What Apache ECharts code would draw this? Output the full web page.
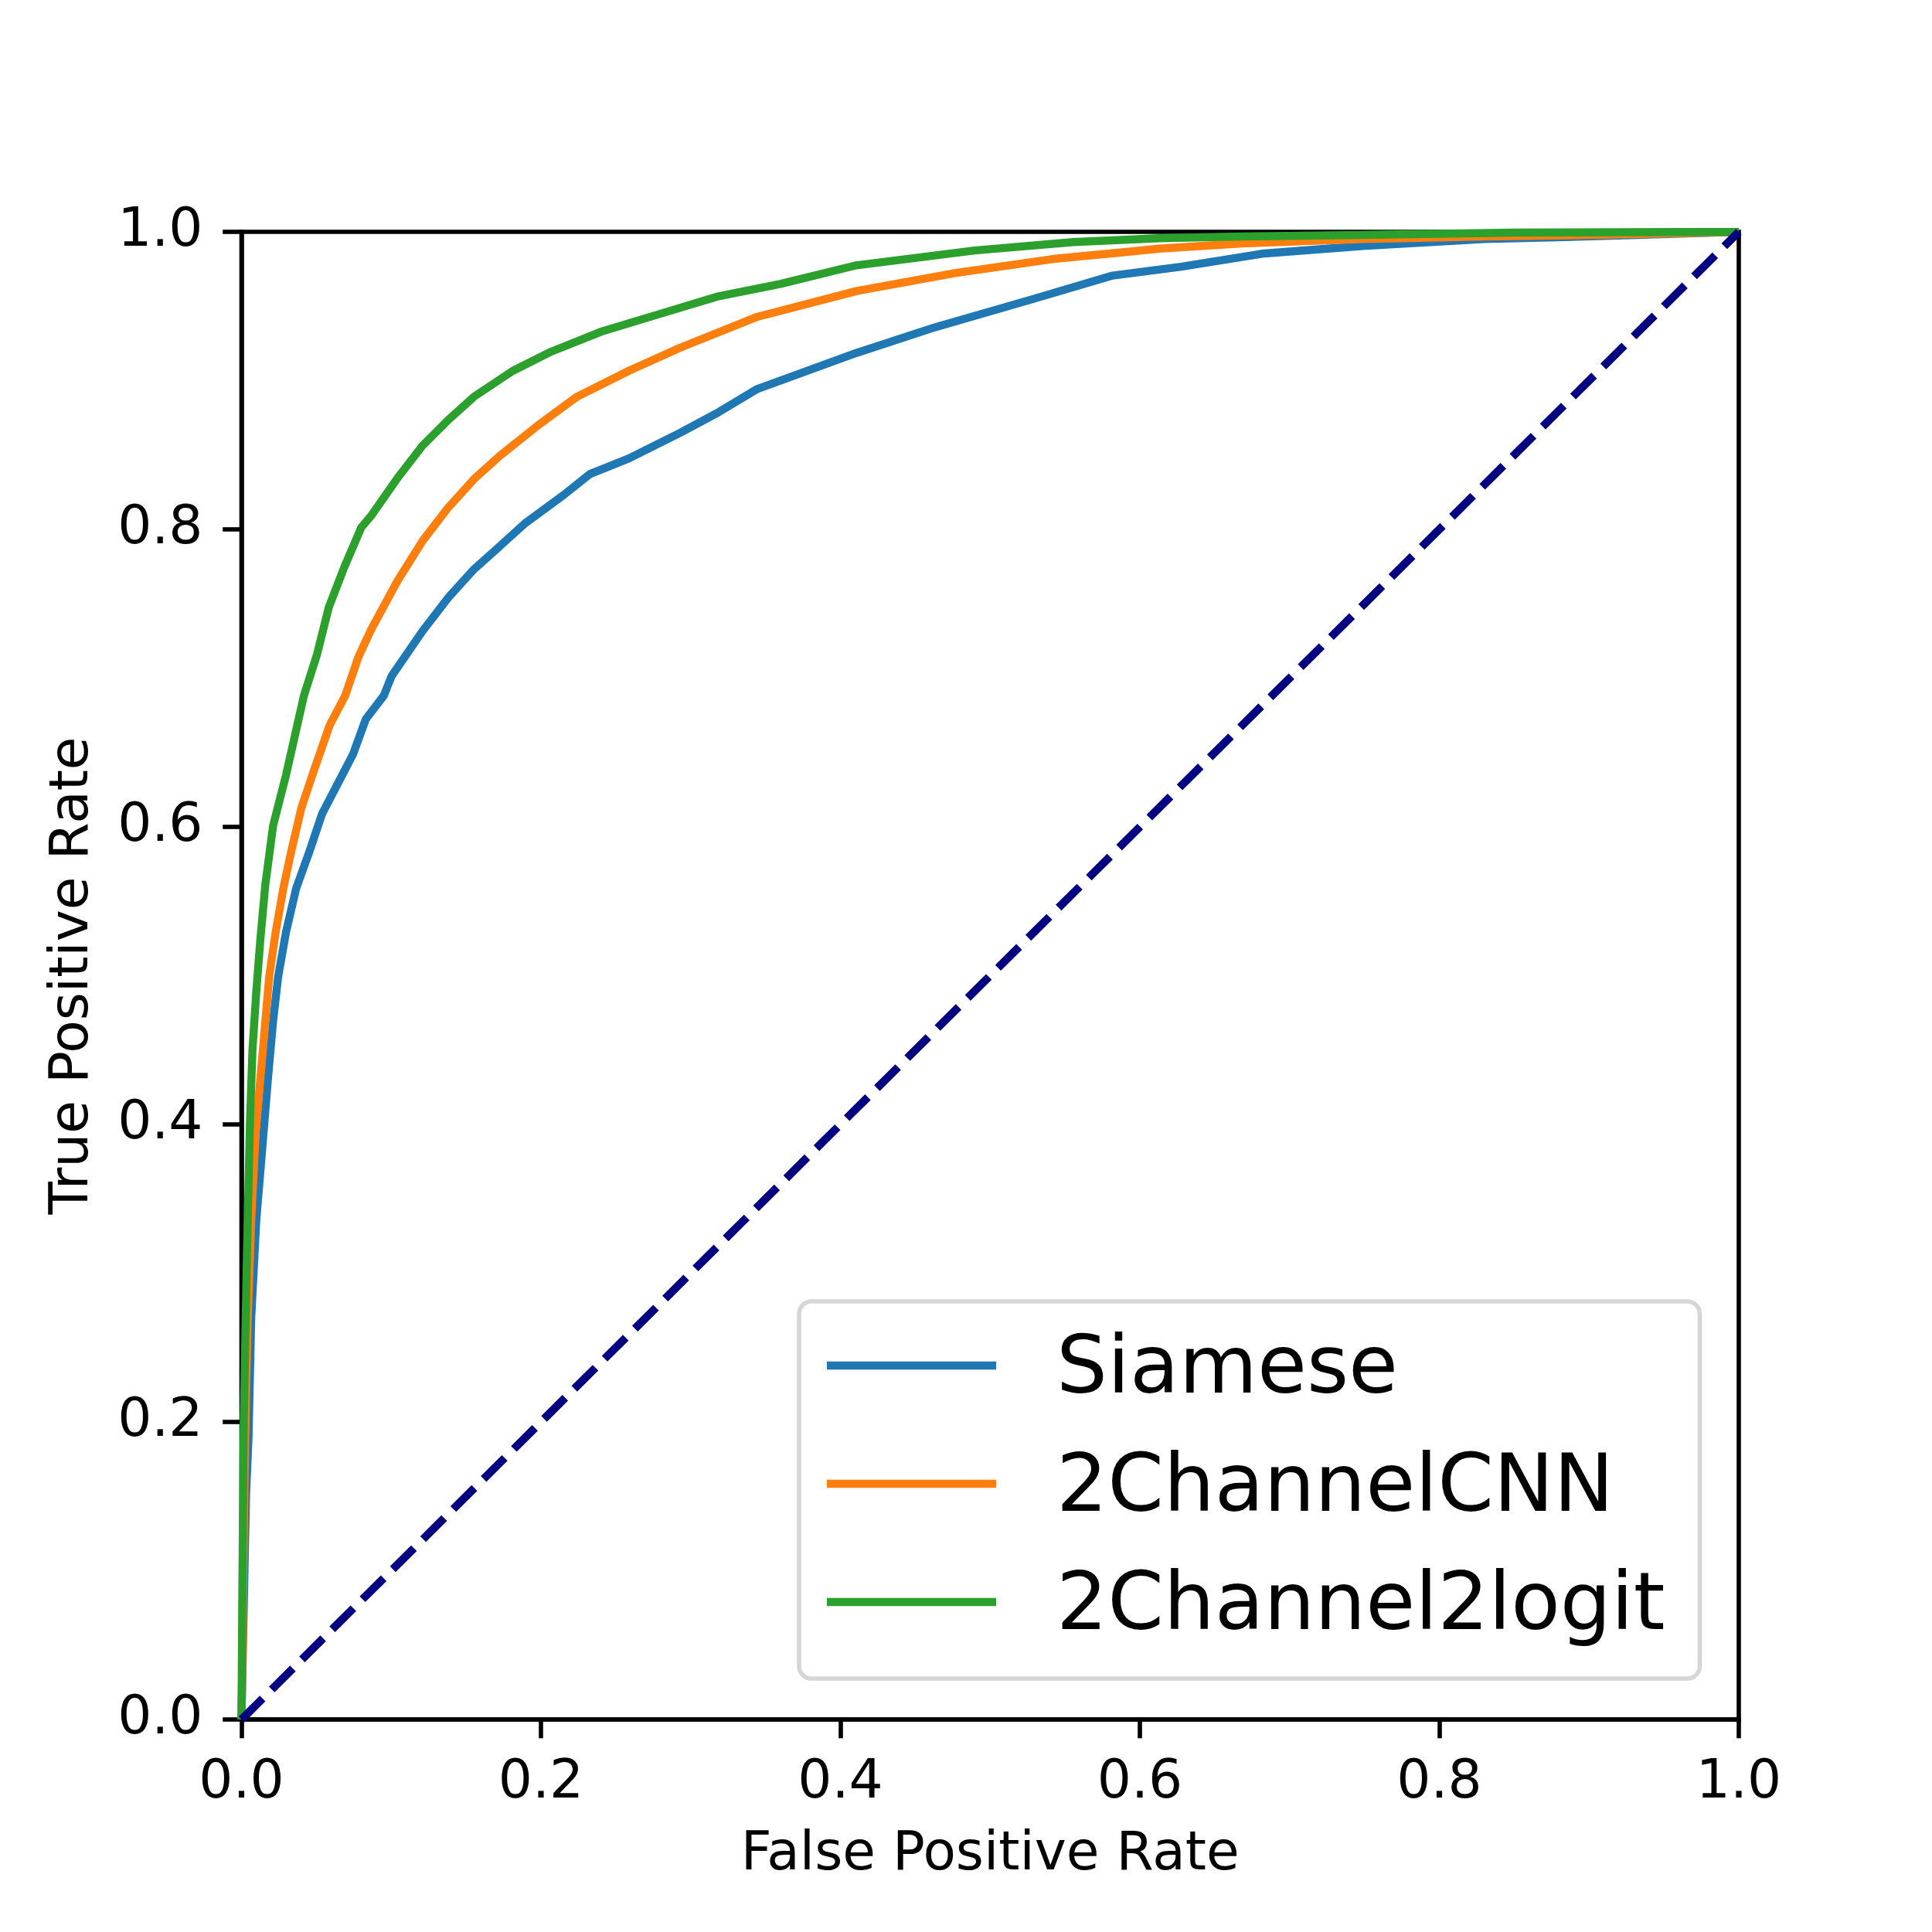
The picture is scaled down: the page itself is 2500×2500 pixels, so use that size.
<!DOCTYPE html>
<html>
<head>
<meta charset="utf-8">
<script src="https://cdn.jsdelivr.net/npm/echarts@6/dist/echarts.min.js"></script>
<style>
html,body{margin:0;padding:0;background:#fff;}
#chart{width:2500px;height:2500px;}
</style>
</head>
<body>
<div id="chart"></div>
<script>
const seriesNames = ['Siamese', '2ChannelCNN', '2Channel2logit'];
const xTicks = [0, 0.2, 0.4, 0.6, 0.8, 1.0];
const yTicks = [0, 0.2, 0.4, 0.6, 0.8, 1.0];

const siamese = [
  [0,0],[0.001,0.05],[0.002,0.1],[0.003,0.15],[0.0047,0.19],[0.0065,0.27],[0.0099,0.336],
  [0.0133,0.377],[0.0176,0.43],[0.0211,0.4696],[0.0245,0.4994],[0.0297,0.5292],[0.0366,0.559],
  [0.0452,0.583],[0.0538,0.6088],[0.0641,0.6287],[0.0744,0.6486],[0.083,0.6724],[0.0951,0.6883],
  [0.1002,0.7013],[0.1209,0.7316],[0.1381,0.7541],[0.1553,0.7732],[0.1725,0.7887],[0.1897,0.8043],
  [0.2155,0.8234],[0.2327,0.8372],[0.2585,0.8476],[0.2929,0.8649],[0.3187,0.8788],[0.3445,0.8944],
  [0.4107,0.9186],[0.4633,0.9359],[0.5292,0.955],[0.5818,0.9706],[0.6276,0.9766],[0.6815,0.9853],
  [0.749,0.9905],[0.83,0.9952],[0.884,0.9965],[1,1]
];
const cnn = [
  [0,0],[0.001,0.08],[0.002,0.16],[0.003,0.22],[0.0042,0.27],[0.0065,0.336],[0.0095,0.395],
  [0.0151,0.4597],[0.0185,0.4994],[0.0228,0.5292],[0.028,0.559],[0.0331,0.583],[0.04,0.6128],
  [0.0486,0.6386],[0.0589,0.6684],[0.0693,0.6883],[0.0781,0.7143],[0.0865,0.7325],[0.1037,0.7645],
  [0.1209,0.7922],[0.1381,0.8147],[0.1553,0.8338],[0.1725,0.8494],[0.1983,0.8701],[0.2241,0.8892],
  [0.2585,0.9065],[0.2929,0.9221],[0.3445,0.9429],[0.4107,0.9602],[0.4765,0.9723],[0.5423,0.9818],
  [0.5871,0.9861],[0.6129,0.9887],[0.668,0.9922],[0.749,0.9952],[0.83,0.9969],[0.91,0.998],[1,1]
];
const logit = [
  [0,0],[0.0005,0.08],[0.0015,0.2],[0.0036,0.31],[0.0056,0.40],[0.0073,0.4497],[0.0099,0.4895],
  [0.0125,0.5233],[0.0159,0.5611],[0.0211,0.6008],[0.0297,0.6347],[0.0417,0.6883],[0.0504,0.7158],
  [0.0583,0.7476],[0.0682,0.7735],[0.08,0.8013],[0.0865,0.809],[0.1037,0.8338],[0.1209,0.8563],
  [0.1381,0.8736],[0.1553,0.8892],[0.1811,0.9065],[0.2069,0.9195],[0.2413,0.9333],[0.2757,0.9437],
  [0.3187,0.9567],[0.36,0.965],[0.4107,0.9775],[0.4896,0.9875],[0.5555,0.9931],[0.6129,0.9957],
  [0.668,0.9969],[0.749,0.9979],[0.85,0.9995],[1,1]
];
const diagonal = [[0,0],[1,1]];

const colors = ['#1f77b4', '#ff7f0e', '#2ca02c'];
const FONT = 'DejaVu Sans';
const LW = 10.4;

const chart = echarts.init(document.getElementById('chart'), null, {renderer: 'canvas'});
const axisCommon = {
  type: 'value', min: 0, max: 1, interval: 0.2,
  axisLine: {show: true, onZero: false, lineStyle: {color: '#000', width: 5.6}},
  axisTick: {show: true, inside: false, length: 24.3, lineStyle: {color: '#000', width: 5.6}},
  splitLine: {show: false},
  nameTextStyle: {fontFamily: FONT, fontSize: 69.4, color: '#000'}
};
const curveCommon = {type: 'line', showSymbol: false, symbol: 'none', z: 3};
// legend handle: a bar at the top of a slightly taller box, so the bar sits a little above the text centre
const legendIcon = 'path://M0,0L219,0L219,10.4L0,10.4Z M0,26.3L0.05,26.3L0.05,26.4L0,26.4Z';
chart.setOption({
  animation: false,
  backgroundColor: '#fff',
  grid: {left: 312.5, right: 250, top: 300, bottom: 275, show: true, borderColor: '#000', borderWidth: 5.6, backgroundColor: 'transparent'},
  xAxis: Object.assign({}, axisCommon, {
    name: 'False Positive Rate', nameLocation: 'middle', nameGap: 141,
    axisLabel: {margin: 48, fontFamily: FONT, fontSize: 69.4, color: '#000',
      formatter: v => (xTicks.indexOf(+v.toFixed(1)) >= 0 ? v.toFixed(1) : '')}
  }),
  yAxis: Object.assign({}, axisCommon, {
    name: 'True Positive Rate', nameLocation: 'middle', nameGap: 183, nameRotate: 90,
    axisLabel: {margin: 50, fontFamily: FONT, fontSize: 69.4, color: '#000',
      formatter: v => (yTicks.indexOf(+v.toFixed(1)) >= 0 ? v.toFixed(1) : '')}
  }),
  legend: {
    data: seriesNames,
    orient: 'vertical',
    left: 1034, top: 1684,
    padding: [39, 45, 39, 36],
    itemWidth: 219, itemHeight: 26.4, itemGap: 49,
    icon: legendIcon,
    backgroundColor: '#fff',
    borderColor: '#d6d6d6', borderWidth: 5.6, borderRadius: 16,
    textStyle: {fontFamily: FONT, fontSize: 104, color: '#000', padding: [0, 0, 0, 73]}
  },
  series: [
    Object.assign({}, curveCommon, {name: seriesNames[0], data: siamese, color: colors[0], lineStyle: {width: LW, color: colors[0]}}),
    Object.assign({}, curveCommon, {name: seriesNames[1], data: cnn, color: colors[1], lineStyle: {width: LW, color: colors[1]}}),
    Object.assign({}, curveCommon, {name: seriesNames[2], data: logit, color: colors[2], lineStyle: {width: LW, color: colors[2]}}),
    {name: 'chance', type: 'line', data: diagonal, showSymbol: false, symbol: 'none', color: '#000080', lineStyle: {width: LW, color: '#000080', type: [38.5, 16.7], cap: 'butt'}, z: 3}
  ]
});
</script>
</body>
</html>
